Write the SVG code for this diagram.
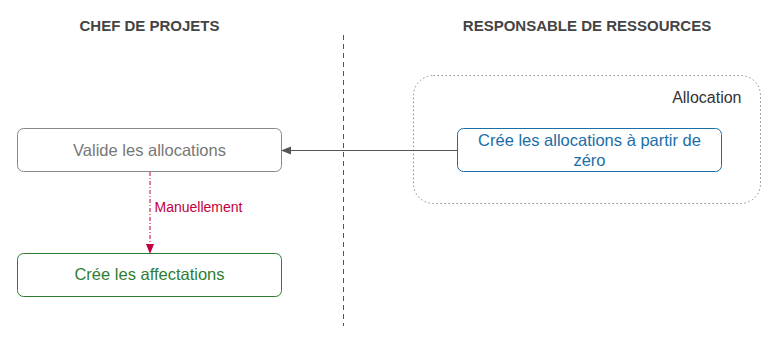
<svg xmlns="http://www.w3.org/2000/svg" width="778" height="339" viewBox="0 0 778 339">
<style>
text{font-family:"Liberation Sans",Arial,sans-serif}
.hdr{font-size:15px;font-weight:bold;fill:#444;text-anchor:middle}
.lbl{font-size:16.5px;text-anchor:middle}
.box{fill:#fff;stroke-width:1}
</style>
<defs>
<marker id="ag" markerWidth="10" markerHeight="10" refX="9" refY="5" orient="auto" markerUnits="userSpaceOnUse"><path d="M0,1 L10,5 L0,9 Z" fill="#555"/></marker>
<marker id="ar" markerWidth="10" markerHeight="10" refX="9" refY="5" orient="auto" markerUnits="userSpaceOnUse"><path d="M0,1 L10,5 L0,9 Z" fill="#c0003c"/></marker>
</defs>
<rect width="778" height="339" fill="#fff"/>
<g id="headers">
<text class="hdr" x="149.5" y="31">CHEF DE PROJETS</text>
<text class="hdr" x="587" y="31">RESPONSABLE DE RESSOURCES</text>
</g>
<line x1="343.5" y1="35" x2="343.5" y2="326" stroke="#555" stroke-dasharray="5,4"/>
<g id="group-allocation">
<rect x="413.5" y="75.5" width="347" height="128" rx="20" fill="none" stroke="#888" stroke-dasharray="1.5,2.5"/>
<text x="741.5" y="103" font-size="16" fill="#333" text-anchor="end">Allocation</text>
</g>
<g id="valide">
<rect class="box" x="17.5" y="128.5" width="264" height="43" rx="6" stroke="#888"/>
<text class="lbl" x="149.5" y="156" fill="#777">Valide les allocations</text>
</g>
<g id="affectations">
<rect class="box" x="17.5" y="253.5" width="264" height="43" rx="6" stroke="#2e7d32"/>
<text class="lbl" x="149.5" y="280" fill="#2e7d32">Crée les affectations</text>
</g>
<g id="creer-allocations">
<rect class="box" x="457.5" y="128.5" width="264" height="43" rx="6" stroke="#1a6ea8"/>
<text class="lbl" x="589.5" y="146" fill="#1a6ea8">Crée les allocations à partir de</text>
<text class="lbl" x="589.5" y="166" fill="#1a6ea8">zéro</text>
</g>
<g id="connectors">
<line x1="457" y1="150.5" x2="282" y2="150.5" stroke="#555" marker-end="url(#ag)"/>
<line x1="150" y1="172" x2="150" y2="253" stroke="#c0003c" stroke-dasharray="4,2,1,2" marker-end="url(#ar)"/>
<text x="154.5" y="212" font-size="14" fill="#c0003c">Manuellement</text>
</g>
</svg>
